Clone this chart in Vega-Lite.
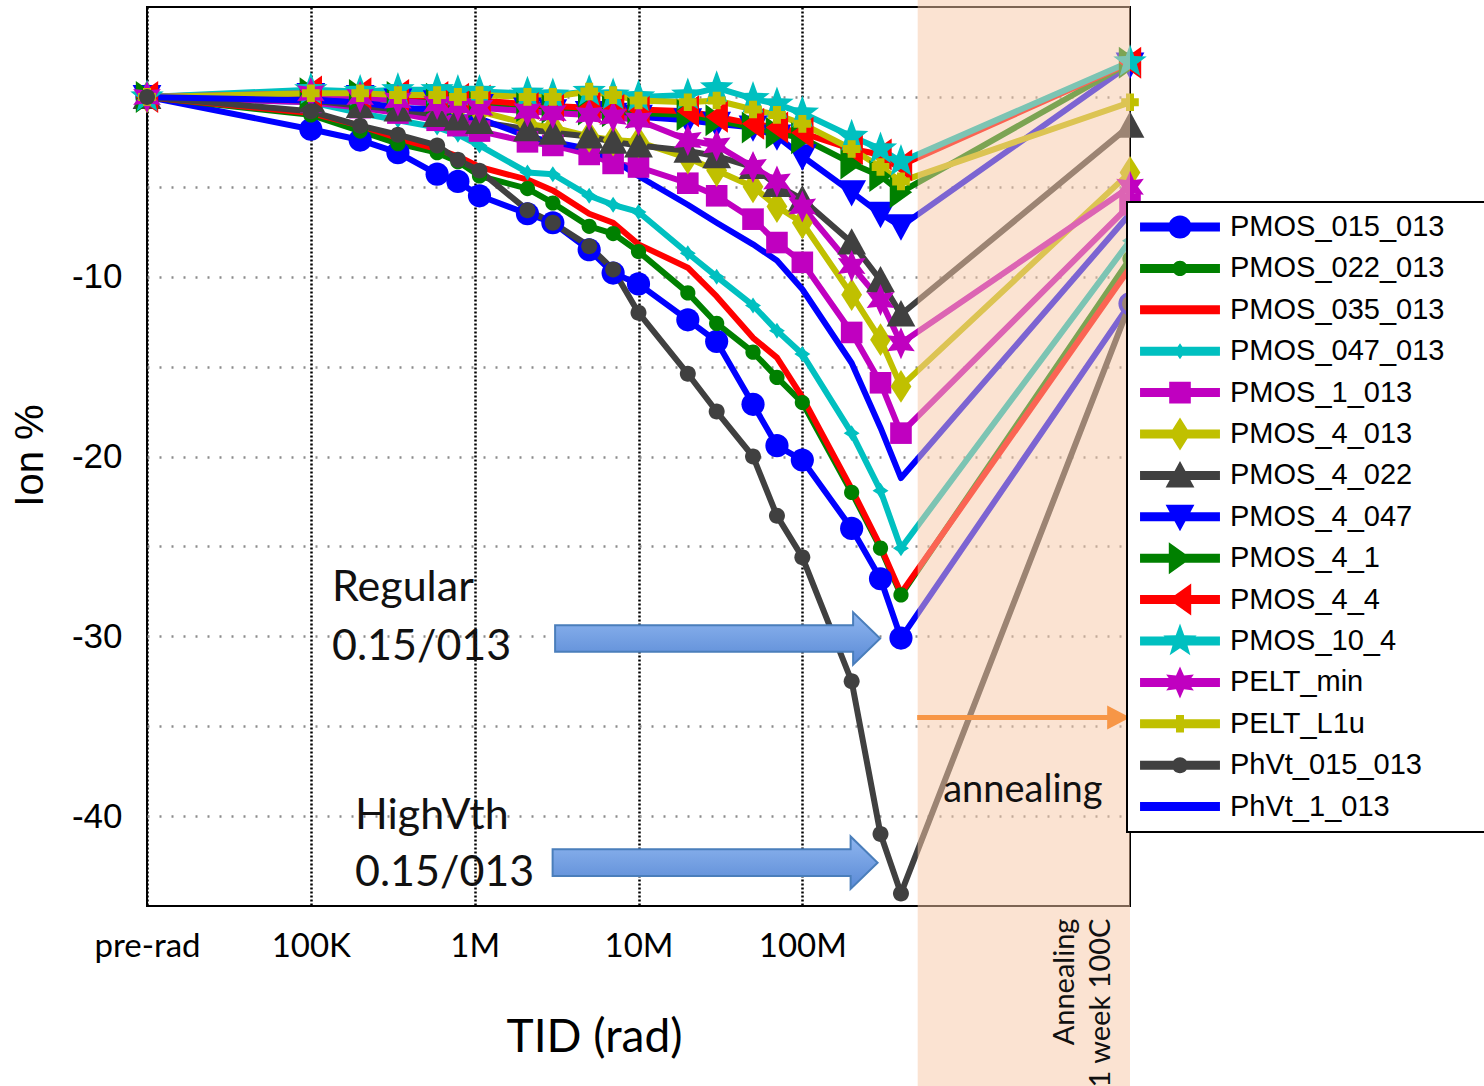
{
  "$schema": "https://vega.github.io/schema/vega-lite/v6.json",
  "width": 983,
  "height": 899,
  "autosize": "none",
  "padding": {"left": 147, "top": 7, "right": 354, "bottom": 180},
  "background": "white",
  "config": {
    "view": {"stroke": "black", "strokeWidth": 2},
    "axis": {"domain": false, "ticks": false}
  },
  "datasets": {
    "series": [
      {"s":"PMOS_015_013","d":10000,"v":0},{"s":"PMOS_015_013","d":100000,"v":-1.8},{"s":"PMOS_015_013","d":200000,"v":-2.4},{"s":"PMOS_015_013","d":340000,"v":-3.1},{"s":"PMOS_015_013","d":590000,"v":-4.3},{"s":"PMOS_015_013","d":790000,"v":-4.7},{"s":"PMOS_015_013","d":1070000,"v":-5.5},{"s":"PMOS_015_013","d":2100000,"v":-6.5},{"s":"PMOS_015_013","d":3000000,"v":-7.0},{"s":"PMOS_015_013","d":5000000,"v":-8.5},{"s":"PMOS_015_013","d":7000000,"v":-9.8},{"s":"PMOS_015_013","d":10000000,"v":-10.4},{"s":"PMOS_015_013","d":20000000,"v":-12.4},{"s":"PMOS_015_013","d":30000000,"v":-13.6},{"s":"PMOS_015_013","d":50000000,"v":-17.1},{"s":"PMOS_015_013","d":70000000,"v":-19.4},{"s":"PMOS_015_013","d":100000000,"v":-20.2},{"s":"PMOS_015_013","d":200000000,"v":-24.0},{"s":"PMOS_015_013","d":300000000,"v":-26.8},{"s":"PMOS_015_013","d":400000000,"v":-30.1},{"s":"PMOS_015_013","d":10000000000,"v":-11.5},
      {"s":"PMOS_022_013","d":10000,"v":0},{"s":"PMOS_022_013","d":100000,"v":-1.0},{"s":"PMOS_022_013","d":200000,"v":-1.9},{"s":"PMOS_022_013","d":340000,"v":-2.6},{"s":"PMOS_022_013","d":590000,"v":-3.1},{"s":"PMOS_022_013","d":790000,"v":-3.6},{"s":"PMOS_022_013","d":1070000,"v":-4.4},{"s":"PMOS_022_013","d":2100000,"v":-5.1},{"s":"PMOS_022_013","d":3000000,"v":-5.9},{"s":"PMOS_022_013","d":5000000,"v":-7.2},{"s":"PMOS_022_013","d":7000000,"v":-7.6},{"s":"PMOS_022_013","d":10000000,"v":-8.6},{"s":"PMOS_022_013","d":20000000,"v":-10.9},{"s":"PMOS_022_013","d":30000000,"v":-12.6},{"s":"PMOS_022_013","d":50000000,"v":-14.2},{"s":"PMOS_022_013","d":70000000,"v":-15.6},{"s":"PMOS_022_013","d":100000000,"v":-17.0},{"s":"PMOS_022_013","d":200000000,"v":-22.0},{"s":"PMOS_022_013","d":300000000,"v":-25.1},{"s":"PMOS_022_013","d":400000000,"v":-27.7},{"s":"PMOS_022_013","d":10000000000,"v":-9.0},
      {"s":"PMOS_035_013","d":10000,"v":0},{"s":"PMOS_035_013","d":100000,"v":-0.9},{"s":"PMOS_035_013","d":200000,"v":-1.6},{"s":"PMOS_035_013","d":340000,"v":-2.3},{"s":"PMOS_035_013","d":590000,"v":-2.9},{"s":"PMOS_035_013","d":790000,"v":-3.3},{"s":"PMOS_035_013","d":1070000,"v":-3.9},{"s":"PMOS_035_013","d":2100000,"v":-4.6},{"s":"PMOS_035_013","d":3000000,"v":-5.2},{"s":"PMOS_035_013","d":5000000,"v":-6.5},{"s":"PMOS_035_013","d":7000000,"v":-7.0},{"s":"PMOS_035_013","d":10000000,"v":-8.2},{"s":"PMOS_035_013","d":20000000,"v":-9.5},{"s":"PMOS_035_013","d":30000000,"v":-11.1},{"s":"PMOS_035_013","d":50000000,"v":-13.4},{"s":"PMOS_035_013","d":70000000,"v":-14.5},{"s":"PMOS_035_013","d":100000000,"v":-16.7},{"s":"PMOS_035_013","d":200000000,"v":-21.8},{"s":"PMOS_035_013","d":300000000,"v":-25.0},{"s":"PMOS_035_013","d":400000000,"v":-27.6},{"s":"PMOS_035_013","d":10000000000,"v":-9.5},
      {"s":"PMOS_047_013","d":10000,"v":0},{"s":"PMOS_047_013","d":100000,"v":-0.3},{"s":"PMOS_047_013","d":200000,"v":-0.9},{"s":"PMOS_047_013","d":340000,"v":-1.3},{"s":"PMOS_047_013","d":590000,"v":-1.7},{"s":"PMOS_047_013","d":790000,"v":-2.1},{"s":"PMOS_047_013","d":1070000,"v":-2.7},{"s":"PMOS_047_013","d":2100000,"v":-4.2},{"s":"PMOS_047_013","d":3000000,"v":-4.3},{"s":"PMOS_047_013","d":5000000,"v":-5.5},{"s":"PMOS_047_013","d":7000000,"v":-6.0},{"s":"PMOS_047_013","d":10000000,"v":-6.4},{"s":"PMOS_047_013","d":20000000,"v":-8.7},{"s":"PMOS_047_013","d":30000000,"v":-10.0},{"s":"PMOS_047_013","d":50000000,"v":-11.6},{"s":"PMOS_047_013","d":70000000,"v":-13.0},{"s":"PMOS_047_013","d":100000000,"v":-14.3},{"s":"PMOS_047_013","d":200000000,"v":-18.7},{"s":"PMOS_047_013","d":300000000,"v":-21.9},{"s":"PMOS_047_013","d":400000000,"v":-25.1},{"s":"PMOS_047_013","d":10000000000,"v":-8.0},
      {"s":"PMOS_1_013","d":10000,"v":0},{"s":"PMOS_1_013","d":100000,"v":-0.3},{"s":"PMOS_1_013","d":200000,"v":-0.6},{"s":"PMOS_1_013","d":340000,"v":-0.9},{"s":"PMOS_1_013","d":590000,"v":-1.3},{"s":"PMOS_1_013","d":790000,"v":-1.6},{"s":"PMOS_1_013","d":1070000,"v":-1.9},{"s":"PMOS_1_013","d":2100000,"v":-2.5},{"s":"PMOS_1_013","d":3000000,"v":-2.7},{"s":"PMOS_1_013","d":5000000,"v":-3.2},{"s":"PMOS_1_013","d":7000000,"v":-3.7},{"s":"PMOS_1_013","d":10000000,"v":-3.9},{"s":"PMOS_1_013","d":20000000,"v":-4.8},{"s":"PMOS_1_013","d":30000000,"v":-5.5},{"s":"PMOS_1_013","d":50000000,"v":-6.8},{"s":"PMOS_1_013","d":70000000,"v":-8.1},{"s":"PMOS_1_013","d":100000000,"v":-9.2},{"s":"PMOS_1_013","d":200000000,"v":-13.1},{"s":"PMOS_1_013","d":300000000,"v":-15.9},{"s":"PMOS_1_013","d":400000000,"v":-18.7},{"s":"PMOS_1_013","d":10000000000,"v":-6.0},
      {"s":"PMOS_4_013","d":10000,"v":0},{"s":"PMOS_4_013","d":100000,"v":0.1},{"s":"PMOS_4_013","d":200000,"v":-0.1},{"s":"PMOS_4_013","d":340000,"v":-0.2},{"s":"PMOS_4_013","d":590000,"v":-0.4},{"s":"PMOS_4_013","d":790000,"v":-0.6},{"s":"PMOS_4_013","d":1070000,"v":-0.8},{"s":"PMOS_4_013","d":2100000,"v":-1.5},{"s":"PMOS_4_013","d":3000000,"v":-1.7},{"s":"PMOS_4_013","d":5000000,"v":-2.2},{"s":"PMOS_4_013","d":7000000,"v":-2.4},{"s":"PMOS_4_013","d":10000000,"v":-2.5},{"s":"PMOS_4_013","d":20000000,"v":-3.4},{"s":"PMOS_4_013","d":30000000,"v":-4.1},{"s":"PMOS_4_013","d":50000000,"v":-5.0},{"s":"PMOS_4_013","d":70000000,"v":-6.1},{"s":"PMOS_4_013","d":100000000,"v":-7.0},{"s":"PMOS_4_013","d":200000000,"v":-11.0},{"s":"PMOS_4_013","d":300000000,"v":-13.5},{"s":"PMOS_4_013","d":400000000,"v":-16.1},{"s":"PMOS_4_013","d":10000000000,"v":-4.2},
      {"s":"PMOS_4_022","d":10000,"v":0},{"s":"PMOS_4_022","d":100000,"v":-0.2},{"s":"PMOS_4_022","d":200000,"v":-0.5},{"s":"PMOS_4_022","d":340000,"v":-0.7},{"s":"PMOS_4_022","d":590000,"v":-1.0},{"s":"PMOS_4_022","d":790000,"v":-1.2},{"s":"PMOS_4_022","d":1070000,"v":-1.4},{"s":"PMOS_4_022","d":2100000,"v":-1.8},{"s":"PMOS_4_022","d":3000000,"v":-2.0},{"s":"PMOS_4_022","d":5000000,"v":-2.2},{"s":"PMOS_4_022","d":7000000,"v":-2.5},{"s":"PMOS_4_022","d":10000000,"v":-2.7},{"s":"PMOS_4_022","d":20000000,"v":-3.0},{"s":"PMOS_4_022","d":30000000,"v":-3.3},{"s":"PMOS_4_022","d":50000000,"v":-3.9},{"s":"PMOS_4_022","d":70000000,"v":-4.9},{"s":"PMOS_4_022","d":100000000,"v":-5.7},{"s":"PMOS_4_022","d":200000000,"v":-8.1},{"s":"PMOS_4_022","d":300000000,"v":-10.2},{"s":"PMOS_4_022","d":400000000,"v":-12.1},{"s":"PMOS_4_022","d":10000000000,"v":-1.6},
      {"s":"PMOS_4_047","d":10000,"v":0},{"s":"PMOS_4_047","d":100000,"v":0.1},{"s":"PMOS_4_047","d":200000,"v":0},{"s":"PMOS_4_047","d":340000,"v":-0.2},{"s":"PMOS_4_047","d":590000,"v":-0.3},{"s":"PMOS_4_047","d":790000,"v":-0.4},{"s":"PMOS_4_047","d":1070000,"v":-0.5},{"s":"PMOS_4_047","d":2100000,"v":-0.7},{"s":"PMOS_4_047","d":3000000,"v":-0.8},{"s":"PMOS_4_047","d":5000000,"v":-0.9},{"s":"PMOS_4_047","d":7000000,"v":-1.0},{"s":"PMOS_4_047","d":10000000,"v":-1.1},{"s":"PMOS_4_047","d":20000000,"v":-1.3},{"s":"PMOS_4_047","d":30000000,"v":-1.5},{"s":"PMOS_4_047","d":50000000,"v":-1.7},{"s":"PMOS_4_047","d":70000000,"v":-2.2},{"s":"PMOS_4_047","d":100000000,"v":-3.3},{"s":"PMOS_4_047","d":200000000,"v":-5.3},{"s":"PMOS_4_047","d":300000000,"v":-6.5},{"s":"PMOS_4_047","d":400000000,"v":-7.2},{"s":"PMOS_4_047","d":10000000000,"v":1.8},
      {"s":"PMOS_4_1","d":10000,"v":0},{"s":"PMOS_4_1","d":100000,"v":0.2},{"s":"PMOS_4_1","d":200000,"v":0.1},{"s":"PMOS_4_1","d":340000,"v":0},{"s":"PMOS_4_1","d":590000,"v":-0.1},{"s":"PMOS_4_1","d":790000,"v":-0.2},{"s":"PMOS_4_1","d":1070000,"v":-0.3},{"s":"PMOS_4_1","d":2100000,"v":-0.5},{"s":"PMOS_4_1","d":3000000,"v":-0.6},{"s":"PMOS_4_1","d":5000000,"v":-0.7},{"s":"PMOS_4_1","d":7000000,"v":-0.8},{"s":"PMOS_4_1","d":10000000,"v":-0.9},{"s":"PMOS_4_1","d":20000000,"v":-1.0},{"s":"PMOS_4_1","d":30000000,"v":-1.3},{"s":"PMOS_4_1","d":50000000,"v":-1.7},{"s":"PMOS_4_1","d":70000000,"v":-2.0},{"s":"PMOS_4_1","d":100000000,"v":-2.3},{"s":"PMOS_4_1","d":200000000,"v":-3.7},{"s":"PMOS_4_1","d":300000000,"v":-4.4},{"s":"PMOS_4_1","d":400000000,"v":-5.3},{"s":"PMOS_4_1","d":10000000000,"v":1.9},
      {"s":"PMOS_4_4","d":10000,"v":0},{"s":"PMOS_4_4","d":100000,"v":0.3},{"s":"PMOS_4_4","d":200000,"v":0.2},{"s":"PMOS_4_4","d":340000,"v":0.1},{"s":"PMOS_4_4","d":590000,"v":0},{"s":"PMOS_4_4","d":790000,"v":-0.1},{"s":"PMOS_4_4","d":1070000,"v":-0.2},{"s":"PMOS_4_4","d":2100000,"v":-0.4},{"s":"PMOS_4_4","d":3000000,"v":-0.5},{"s":"PMOS_4_4","d":5000000,"v":-0.6},{"s":"PMOS_4_4","d":7000000,"v":-0.6},{"s":"PMOS_4_4","d":10000000,"v":-0.7},{"s":"PMOS_4_4","d":20000000,"v":-0.8},{"s":"PMOS_4_4","d":30000000,"v":-1.1},{"s":"PMOS_4_4","d":50000000,"v":-1.5},{"s":"PMOS_4_4","d":70000000,"v":-1.7},{"s":"PMOS_4_4","d":100000000,"v":-2.0},{"s":"PMOS_4_4","d":200000000,"v":-2.9},{"s":"PMOS_4_4","d":300000000,"v":-3.2},{"s":"PMOS_4_4","d":400000000,"v":-3.8},{"s":"PMOS_4_4","d":10000000000,"v":1.9},
      {"s":"PMOS_10_4","d":10000,"v":0},{"s":"PMOS_10_4","d":100000,"v":0.4},{"s":"PMOS_10_4","d":200000,"v":0.3},{"s":"PMOS_10_4","d":340000,"v":0.4},{"s":"PMOS_10_4","d":590000,"v":0.4},{"s":"PMOS_10_4","d":790000,"v":0.3},{"s":"PMOS_10_4","d":1070000,"v":0.3},{"s":"PMOS_10_4","d":2100000,"v":0.2},{"s":"PMOS_10_4","d":3000000,"v":0.1},{"s":"PMOS_10_4","d":5000000,"v":0.3},{"s":"PMOS_10_4","d":7000000,"v":0.1},{"s":"PMOS_10_4","d":10000000,"v":0},{"s":"PMOS_10_4","d":20000000,"v":0.1},{"s":"PMOS_10_4","d":30000000,"v":0.5},{"s":"PMOS_10_4","d":50000000,"v":-0.1},{"s":"PMOS_10_4","d":70000000,"v":-0.4},{"s":"PMOS_10_4","d":100000000,"v":-0.9},{"s":"PMOS_10_4","d":200000000,"v":-2.2},{"s":"PMOS_10_4","d":300000000,"v":-2.9},{"s":"PMOS_10_4","d":400000000,"v":-3.6},{"s":"PMOS_10_4","d":10000000000,"v":1.95},
      {"s":"PELT_min","d":10000,"v":0},{"s":"PELT_min","d":100000,"v":0.2},{"s":"PELT_min","d":200000,"v":0},{"s":"PELT_min","d":340000,"v":-0.2},{"s":"PELT_min","d":590000,"v":-0.4},{"s":"PELT_min","d":790000,"v":-0.5},{"s":"PELT_min","d":1070000,"v":-0.6},{"s":"PELT_min","d":2100000,"v":-0.8},{"s":"PELT_min","d":3000000,"v":-0.9},{"s":"PELT_min","d":5000000,"v":-1.0},{"s":"PELT_min","d":7000000,"v":-1.1},{"s":"PELT_min","d":10000000,"v":-1.3},{"s":"PELT_min","d":20000000,"v":-2.4},{"s":"PELT_min","d":30000000,"v":-2.7},{"s":"PELT_min","d":50000000,"v":-3.9},{"s":"PELT_min","d":70000000,"v":-4.7},{"s":"PELT_min","d":100000000,"v":-6.1},{"s":"PELT_min","d":200000000,"v":-9.4},{"s":"PELT_min","d":300000000,"v":-11.3},{"s":"PELT_min","d":400000000,"v":-13.7},{"s":"PELT_min","d":10000000000,"v":-5.0},
      {"s":"PELT_L1u","d":10000,"v":0},{"s":"PELT_L1u","d":100000,"v":0.2},{"s":"PELT_L1u","d":200000,"v":0.2},{"s":"PELT_L1u","d":340000,"v":0.1},{"s":"PELT_L1u","d":590000,"v":0.1},{"s":"PELT_L1u","d":790000,"v":0},{"s":"PELT_L1u","d":1070000,"v":0.1},{"s":"PELT_L1u","d":2100000,"v":0},{"s":"PELT_L1u","d":3000000,"v":0},{"s":"PELT_L1u","d":5000000,"v":0.3},{"s":"PELT_L1u","d":7000000,"v":0.1},{"s":"PELT_L1u","d":10000000,"v":-0.2},{"s":"PELT_L1u","d":20000000,"v":-0.3},{"s":"PELT_L1u","d":30000000,"v":-0.2},{"s":"PELT_L1u","d":50000000,"v":-0.7},{"s":"PELT_L1u","d":70000000,"v":-1.0},{"s":"PELT_L1u","d":100000000,"v":-1.5},{"s":"PELT_L1u","d":200000000,"v":-2.9},{"s":"PELT_L1u","d":300000000,"v":-3.9},{"s":"PELT_L1u","d":400000000,"v":-4.7},{"s":"PELT_L1u","d":10000000000,"v":-0.3},
      {"s":"PhVt_015_013","d":10000,"v":0},{"s":"PhVt_015_013","d":100000,"v":-0.8},{"s":"PhVt_015_013","d":200000,"v":-1.6},{"s":"PhVt_015_013","d":340000,"v":-2.1},{"s":"PhVt_015_013","d":590000,"v":-2.7},{"s":"PhVt_015_013","d":790000,"v":-3.5},{"s":"PhVt_015_013","d":1070000,"v":-4.1},{"s":"PhVt_015_013","d":2100000,"v":-6.3},{"s":"PhVt_015_013","d":3000000,"v":-7.0},{"s":"PhVt_015_013","d":5000000,"v":-8.3},{"s":"PhVt_015_013","d":7000000,"v":-9.6},{"s":"PhVt_015_013","d":10000000,"v":-12.0},{"s":"PhVt_015_013","d":20000000,"v":-15.4},{"s":"PhVt_015_013","d":30000000,"v":-17.5},{"s":"PhVt_015_013","d":50000000,"v":-20.0},{"s":"PhVt_015_013","d":70000000,"v":-23.3},{"s":"PhVt_015_013","d":100000000,"v":-25.6},{"s":"PhVt_015_013","d":200000000,"v":-32.5},{"s":"PhVt_015_013","d":300000000,"v":-41.0},{"s":"PhVt_015_013","d":400000000,"v":-44.3},{"s":"PhVt_015_013","d":10000000000,"v":-11.5},
      {"s":"PhVt_1_013","d":10000,"v":0},{"s":"PhVt_1_013","d":100000,"v":-0.2},{"s":"PhVt_1_013","d":200000,"v":-0.3},{"s":"PhVt_1_013","d":340000,"v":-0.6},{"s":"PhVt_1_013","d":590000,"v":-0.7},{"s":"PhVt_1_013","d":790000,"v":-1.1},{"s":"PhVt_1_013","d":1070000,"v":-1.2},{"s":"PhVt_1_013","d":2100000,"v":-2.2},{"s":"PhVt_1_013","d":3000000,"v":-2.5},{"s":"PhVt_1_013","d":5000000,"v":-2.9},{"s":"PhVt_1_013","d":7000000,"v":-3.5},{"s":"PhVt_1_013","d":10000000,"v":-4.4},{"s":"PhVt_1_013","d":20000000,"v":-6.0},{"s":"PhVt_1_013","d":30000000,"v":-7.0},{"s":"PhVt_1_013","d":50000000,"v":-8.2},{"s":"PhVt_1_013","d":70000000,"v":-9.1},{"s":"PhVt_1_013","d":100000000,"v":-10.7},{"s":"PhVt_1_013","d":200000000,"v":-14.8},{"s":"PhVt_1_013","d":300000000,"v":-18.4},{"s":"PhVt_1_013","d":400000000,"v":-21.2},{"s":"PhVt_1_013","d":10000000000,"v":-6.5}
    ]
  },
  "layer": [
    {
      "data": {"name": "series"},
      "mark": {"type": "line", "strokeWidth": 6, "strokeJoin": "round"},
      "encoding": {
        "x": {"field": "d", "type": "quantitative", "title": "TID (rad)",
          "scale": {"type": "log", "domain": [10000, 10000000000]},
          "axis": {"values": [10000, 100000, 1000000, 10000000, 100000000],
            "labelExpr": "datum.value == 10000 ? 'pre-rad' : datum.value == 100000 ? '100K' : datum.value == 1000000 ? '1M' : datum.value == 10000000 ? '10M' : '100M'",
            "grid": true, "gridColor": "black", "gridDash": [2, 2], "gridWidth": 2.5, "gridOpacity": 1,
            "labelFont": "Lato", "labelFontSize": 33, "labelColor": "black", "labelPadding": 24, "labelFlush": false, "labelOverlap": false,
            "titleFont": "Lato", "titleFontSize": 46, "titleFontWeight": "normal", "titleColor": "black",
            "titleX": 447, "titleY": 131, "titleBaseline": "middle", "titleAlign": "center"}},
        "y": {"field": "v", "type": "quantitative", "title": "Ion %",
          "scale": {"domain": [-45, 5], "nice": false, "zero": false},
          "axis": {"values": [-40, -35, -30, -25, -20, -15, -10, -5, 0],
            "labelExpr": "datum.value % 10 == 0 && datum.value != 0 ? '-' + abs(datum.value) : ''",
            "grid": true, "gridColor": "#8c8c8c", "gridDash": [2, 10], "gridWidth": 2.5, "gridOpacity": 1,
            "labelFont": "Liberation Sans", "labelFontSize": 35, "labelColor": "black", "labelPadding": 25,
            "titleFont": "Liberation Sans", "titleFontSize": 40, "titleFontWeight": "normal", "titleColor": "black",
            "titleX": -117, "titleY": 448, "titleAngle": 270, "titleBaseline": "middle", "titleAlign": "center"}},
        "color": {"field": "s", "type": "nominal",
          "scale": {"domain": ["PMOS_015_013","PMOS_022_013","PMOS_035_013","PMOS_047_013","PMOS_1_013","PMOS_4_013","PMOS_4_022","PMOS_4_047","PMOS_4_1","PMOS_4_4","PMOS_10_4","PELT_min","PELT_L1u","PhVt_015_013","PhVt_1_013"],
            "range": ["#0000ff","#008000","#ff0000","#00c0c0","#c000c0","#c0c000","#404040","#0000ff","#008000","#ff0000","#00c0c0","#c000c0","#c0c000","#404040","#0000ff"]},
          "legend": {"title": null, "orient": "none", "legendX": 980, "legendY": 195,
            "padding": 7, "fillColor": "white", "strokeColor": "black",
            "symbolSize": 1296, "symbolStrokeWidth": 0, "symbolOffset": 28, "labelOffset": 32, "rowPadding": 5.4,
            "labelFont": "Liberation Sans", "labelFontSize": 29, "labelColor": "black", "labelLimit": 0,
            "labelExpr": "datum.label + '\u00a0\u00a0\u2800'",
            "encode": {
              "legend": {"update": {"strokeWidth": {"value": 2}}},
              "symbols": {"update": {
                "shape": {"signal": "'M-2.22,-1M-2.22,1M-2.22,-0.25H2.22V0.25H-2.22Z' + scale('shape', datum.value)"},
                "fill": {"signal": "scale('color', datum.value)"},
                "stroke": {"value": "transparent"},
                "strokeWidth": {"value": 0},
                "opacity": {"value": 1},
                "size": {"value": 1296}}}}}}
      }
    },
    {
      "data": {"name": "series"},
      "mark": {"type": "point", "filled": true, "size": 1296, "opacity": 1, "strokeWidth": 0},
      "encoding": {
        "x": {"field": "d", "type": "quantitative", "title": "TID (rad)", "scale": {"type": "log", "domain": [10000, 10000000000]}},
        "y": {"field": "v", "type": "quantitative", "title": "Ion %", "scale": {"domain": [-45, 5], "nice": false, "zero": false}},
        "color": {"field": "s", "type": "nominal"},
        "shape": {"field": "s", "type": "nominal", "legend": null,
          "scale": {"domain": ["PhVt_1_013","PhVt_015_013","PELT_L1u","PELT_min","PMOS_10_4","PMOS_4_4","PMOS_4_1","PMOS_4_047","PMOS_4_022","PMOS_4_013","PMOS_1_013","PMOS_047_013","PMOS_035_013","PMOS_022_013","PMOS_015_013"],
            "range": [
              "M0,0",
              "M0.444,0A0.444,0.444 0 1 1 -0.444,0A0.444,0.444 0 1 1 0.444,0Z",
              "M-0.222,-0.489H0.222V-0.222H0.489V0.222H0.222V0.489H-0.222V0.222H-0.489V-0.222H-0.222Z",
              "M0,-0.889L0.222,-0.384L0.769,-0.444L0.444,0L0.769,0.444L0.222,0.384L0,0.889L-0.222,0.384L-0.769,0.444L-0.444,0L-0.769,-0.444L-0.222,-0.384Z",
              "M0,-0.978L0.236,-0.324L0.929,-0.302L0.38,0.124L0.576,0.791L0,0.4L-0.576,0.791L-0.38,0.124L-0.929,-0.302L-0.236,-0.324Z",
              "M-0.622,0L0.622,-0.889V0.889Z",
              "M0.622,0L-0.622,0.889V-0.889Z",
              "M0,0.8L-0.8,-0.667H0.8Z",
              "M0,-0.8L0.8,0.667H-0.8Z",
              "M0,-0.911L0.578,0L0,0.911L-0.578,0Z",
              "M-0.6,-0.6H0.6V0.6H-0.6Z",
              "M0,-0.444L0.178,-0.178L0.444,0L0.178,0.178L0,0.444L-0.178,0.178L-0.444,0L-0.178,-0.178Z",
              "M0,0",
              "M0.422,0A0.422,0.422 0 1 1 -0.422,0A0.422,0.422 0 1 1 0.422,0Z",
              "M0.644,0A0.644,0.644 0 1 1 -0.644,0A0.644,0.644 0 1 1 0.644,0Z"
            ]}}
      }
    },
    {
      "data": {"values": [{"d": 506000000, "d2": 10000000000, "v": 5.4, "v2": -55.1}]},
      "mark": {"type": "rect", "color": "#f8c8a6", "opacity": 0.5},
      "encoding": {
        "x": {"field": "d", "type": "quantitative", "title": "TID (rad)", "scale": {"type": "log", "domain": [10000, 10000000000]}},
        "x2": {"field": "d2"},
        "y": {"field": "v", "type": "quantitative", "title": "Ion %", "scale": {"domain": [-45, 5], "nice": false, "zero": false}},
        "y2": {"field": "v2"}
      }
    },
    {
      "data": {"values": [{"d": 30400000, "v": -30.12}, {"d": 29350000, "v": -42.59}]},
      "mark": {"type": "point", "filled": true, "opacity": 1, "size": 40000,
        "shape": "M-1.625,-0.133H1.355V-0.262L1.625,0L1.355,0.262V0.133H-1.625Z",
        "fill": {"gradient": "linear", "x1": 0, "y1": 0, "x2": 0, "y2": 1, "stops": [{"offset": 0, "color": "#8fb6ef"}, {"offset": 1, "color": "#5a8ad6"}]},
        "stroke": "#4a7ebb", "strokeWidth": 2},
      "encoding": {
        "x": {"field": "d", "type": "quantitative", "title": "TID (rad)", "scale": {"type": "log", "domain": [10000, 10000000000]}},
        "y": {"field": "v", "type": "quantitative", "title": "Ion %", "scale": {"domain": [-45, 5], "nice": false, "zero": false}}
      }
    },
    {
      "data": {"values": [{"d": 2244000000, "v": -34.52}]},
      "mark": {"type": "point", "filled": true, "opacity": 1, "size": 40000,
        "shape": "M-1.065,-0.025H0.835V-0.12L1.065,0L0.835,0.12V0.025H-1.065Z",
        "fill": "#f79646", "strokeWidth": 0},
      "encoding": {
        "x": {"field": "d", "type": "quantitative", "title": "TID (rad)", "scale": {"type": "log", "domain": [10000, 10000000000]}},
        "y": {"field": "v", "type": "quantitative", "title": "Ion %", "scale": {"domain": [-45, 5], "nice": false, "zero": false}}
      }
    },
    {
      "data": {"values": [
        {"d": 134700, "v": -27.34, "t": "Regular"},
        {"d": 134700, "v": -30.62, "t": "0.15/013"},
        {"d": 186100, "v": -39.98, "t": "HighVth"},
        {"d": 186100, "v": -43.15, "t": "0.15/013"}]},
      "mark": {"type": "text", "font": "Lato", "fontSize": 43, "align": "left", "baseline": "middle", "color": "#111111"},
      "encoding": {
        "x": {"field": "d", "type": "quantitative", "title": "TID (rad)", "scale": {"type": "log", "domain": [10000, 10000000000]}},
        "y": {"field": "v", "type": "quantitative", "title": "Ion %", "scale": {"domain": [-45, 5], "nice": false, "zero": false}},
        "text": {"field": "t"}
      }
    },
    {
      "data": {"values": [{"d": 724000000, "v": -38.59, "t": "annealing"}]},
      "mark": {"type": "text", "font": "Lato", "fontSize": 38, "align": "left", "baseline": "middle", "color": "#111111"},
      "encoding": {
        "x": {"field": "d", "type": "quantitative", "title": "TID (rad)", "scale": {"type": "log", "domain": [10000, 10000000000]}},
        "y": {"field": "v", "type": "quantitative", "title": "Ion %", "scale": {"domain": [-45, 5], "nice": false, "zero": false}},
        "text": {"field": "t"}
      }
    },
    {
      "data": {"values": [{"d": 4010000000, "v": -45.7, "t": ["Annealing", "1 week 100C"]}]},
      "mark": {"type": "text", "font": "Lato", "fontSize": 29, "angle": 270, "align": "right", "baseline": "middle", "lineHeight": 36, "color": "#111111"},
      "encoding": {
        "x": {"field": "d", "type": "quantitative", "title": "TID (rad)", "scale": {"type": "log", "domain": [10000, 10000000000]}},
        "y": {"field": "v", "type": "quantitative", "title": "Ion %", "scale": {"domain": [-45, 5], "nice": false, "zero": false}},
        "text": {"field": "t"}
      }
    }
  ]
}
